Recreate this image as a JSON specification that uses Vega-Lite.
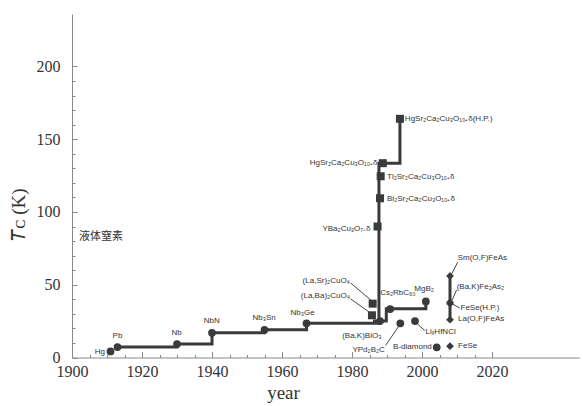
{
  "$schema": "https://vega.github.io/schema/vega-lite/v6.json",
  "width": 507.5,
  "height": 343.5,
  "autosize": {"type": "none"},
  "padding": {"left": 72, "top": 14, "right": 3.5, "bottom": 48.5},
  "background": "white",
  "config": {
    "view": {"stroke": null},
    "font": "Liberation Serif",
    "axis": {"labelFont": "Liberation Serif", "titleFont": "Liberation Serif"}
  },
  "datasets": {
    "steps": [
      {"series": "main", "year": 1913, "tc": 7.2},
      {"series": "main", "year": 1930, "tc": 9.2},
      {"series": "main", "year": 1940, "tc": 17},
      {"series": "main", "year": 1955, "tc": 19},
      {"series": "main", "year": 1967, "tc": 23.5},
      {"series": "main", "year": 1987.7, "tc": 133.5},
      {"series": "main", "year": 1993.7, "tc": 164},
      {"series": "branch", "year": 1986, "tc": 25},
      {"series": "branch", "year": 1989.8, "tc": 33.5},
      {"series": "branch", "year": 2001.1, "tc": 38.5},
      {"series": "iron", "year": 2008, "tc": 26},
      {"series": "iron", "year": 2008, "tc": 56}
    ],
    "circles": [
      {"name": "Hg", "year": 1911, "tc": 4.2},
      {"name": "Pb", "year": 1913, "tc": 7.2},
      {"name": "Nb", "year": 1930, "tc": 9.2},
      {"name": "NbN", "year": 1940, "tc": 17},
      {"name": "Nb3Sn", "year": 1955, "tc": 19},
      {"name": "Nb3Ge", "year": 1967, "tc": 23.5},
      {"name": "(Ba,K)BiO3", "year": 1988, "tc": 25},
      {"name": "Cs2RbC60", "year": 1990.9, "tc": 33.3},
      {"name": "MgB2", "year": 2001.1, "tc": 38.5},
      {"name": "YPd2B2C", "year": 1993.8, "tc": 23.5},
      {"name": "LixHfNCl", "year": 1998, "tc": 25},
      {"name": "B-diamond", "year": 2004.2, "tc": 7}
    ],
    "squares": [
      {"name": "(La,Ba)2CuO4", "year": 1985.7, "tc": 29},
      {"name": "(La,Sr)2CuO4", "year": 1985.9, "tc": 37},
      {"name": "YBa2Cu3O7", "year": 1987.3, "tc": 90},
      {"name": "Bi2223", "year": 1988, "tc": 109.4},
      {"name": "Tl2223", "year": 1988.2, "tc": 124.5},
      {"name": "Hg1223", "year": 1988.8, "tc": 133.5},
      {"name": "Hg1223 HP", "year": 1993.7, "tc": 164}
    ],
    "diamonds": [
      {"name": "La(O,F)FeAs", "year": 2008, "tc": 26},
      {"name": "FeSe(H.P.)", "year": 2008, "tc": 37},
      {"name": "(Ba,K)Fe2As2", "year": 2008, "tc": 38},
      {"name": "Sm(O,F)FeAs", "year": 2008, "tc": 56},
      {"name": "FeSe", "year": 2008, "tc": 7.8}
    ],
    "leaders": [
      {"year": 1979.6, "tc": 51.2, "year2": 1985.6, "tc2": 39},
      {"year": 1979.6, "tc": 40.3, "year2": 1985.6, "tc2": 30},
      {"year": 1989.6, "tc": 8.3, "year2": 1993.5, "tc2": 22},
      {"year": 1998.5, "tc": 23.5, "year2": 2000.8, "tc2": 18.5},
      {"year": 2008.5, "tc": 37, "year2": 2010.8, "tc2": 34},
      {"year": 2008.6, "tc": 39.5, "year2": 2009.9, "tc2": 46.5},
      {"year": 2008.5, "tc": 57.5, "year2": 2010.2, "tc2": 65.5}
    ],
    "labelsLeft": [
      {"label": "Tl₂Sr₂Ca₂Cu₃O₁₀₊δ", "year": 1990, "tc": 123.8},
      {"label": "Bi₂Sr₂Ca₂Cu₃O₁₀₊δ", "year": 1990, "tc": 108.7},
      {"label": "HgSr₂Ca₂Cu₃O₁₀₊δ(H.P.)", "year": 1995.1, "tc": 163.9},
      {"label": "LiₓHfNCl", "year": 2001, "tc": 17.3},
      {"label": "FeSe", "year": 2010.3, "tc": 7.6},
      {"label": "La(O,F)FeAs", "year": 2010.3, "tc": 26.3},
      {"label": "FeSe(H.P.)", "year": 2011, "tc": 33.8},
      {"label": "(Ba,K)Fe₂As₂", "year": 2009.9, "tc": 48.7},
      {"label": "Sm(O,F)FeAs", "year": 2010.2, "tc": 68.4}
    ],
    "labelsRight": [
      {"label": "Hg", "year": 1909.4, "tc": 4},
      {"label": "(La,Sr)₂CuO₄", "year": 1979.4, "tc": 52.6},
      {"label": "(La,Ba)₂CuO₄", "year": 1979.4, "tc": 42.3},
      {"label": "YPd₂B₂C", "year": 1989.4, "tc": 5.2},
      {"label": "B-diamond", "year": 2002.8, "tc": 7},
      {"label": "HgSr₂Ca₂Cu₃O₁₀₊δ", "year": 1987.3, "tc": 133.5},
      {"label": "YBa₂Cu₃O₇₋δ", "year": 1985.3, "tc": 88.1}
    ],
    "labelsCenter": [
      {"label": "Pb", "year": 1913, "tc": 14.8},
      {"label": "Nb", "year": 1929.9, "tc": 16.6},
      {"label": "NbN", "year": 1939.9, "tc": 25},
      {"label": "Nb₃Sn", "year": 1954.9, "tc": 27.4},
      {"label": "Nb₃Ge", "year": 1965.9, "tc": 30.8},
      {"label": "(Ba,K)BiO₃", "year": 1982.8, "tc": 14.8},
      {"label": "MgB₂", "year": 2000.6, "tc": 47},
      {"label": "Cs₂RbC₆₀", "year": 1993.1, "tc": 44.1}
    ],
    "note": [
      {"label": "液体窒素", "year": 1902, "tc": 83}
    ]
  },
  "encoding": {
    "x": {
      "field": "year", "type": "quantitative",
      "scale": {"domain": [1900, 2045], "nice": false, "zero": false},
      "axis": {
        "values": [1900,1905,1910,1915,1920,1925,1930,1935,1940,1945,1950,1955,1960,1965,1970,1975,1980,1985,1990,1995,2000,2005,2010,2015,2020],
        "format": "d",
        "labelOpacity": {"condition": {"test": "datum.value % 20 == 0", "value": 1}, "value": 0},
        "grid": false,
        "domainColor": "#888",
        "tickColor": "#888",
        "tickSize": {"condition": {"test": "datum.value % 20 == 0", "value": -6}, "value": -3},
        "labelPadding": 12,
        "labelFont": "Liberation Serif",
        "labelFontSize": 16,
        "labelColor": "#333",
        "labelFlush": false,
        "labelOverlap": false,
        "title": "year",
        "titleFont": "Liberation Serif",
        "titleFontSize": 19,
        "titleFontWeight": "normal",
        "titleColor": "#333",
        "titleX": 211,
        "titleY": 41,
        "titleAlign": "center",
        "titleBaseline": "alphabetic"
      }
    },
    "y": {
      "field": "tc", "type": "quantitative",
      "scale": {"domain": [0, 236], "nice": false, "zero": true},
      "axis": {
        "values": [0,10,20,30,40,50,60,70,80,90,100,110,120,130,140,150,160,170,180,190,200],
        "labelOpacity": {"condition": {"test": "datum.value % 50 == 0", "value": 1}, "value": 0},
        "grid": false,
        "domainColor": "#888",
        "tickColor": "#888",
        "tickSize": {"condition": {"test": "datum.value % 50 == 0", "value": -5}, "value": -3},
        "labelPadding": 17,
        "labelFont": "Liberation Serif",
        "labelFontSize": 16,
        "labelColor": "#333",
        "labelFlush": false,
        "labelOverlap": false,
        "title": "𝑇ᴄ (K)",
        "titleFont": "Liberation Serif",
        "titleFontSize": 19,
        "titleFontWeight": "normal",
        "titleColor": "#333",
        "titleAngle": 270,
        "titleX": -48,
        "titleY": 200,
        "titleAlign": "center",
        "titleBaseline": "alphabetic"
      }
    }
  },
  "layer": [
    {
      "data": {"name": "steps"},
      "mark": {"type": "line", "interpolate": "step-after", "color": "#3a3a3a", "strokeWidth": 3},
      "encoding": {"detail": {"field": "series"}}
    },
    {
      "data": {"name": "leaders"},
      "mark": {"type": "rule", "color": "#444", "strokeWidth": 1},
      "encoding": {"x2": {"field": "year2"}, "y2": {"field": "tc2"}}
    },
    {
      "data": {"name": "circles"},
      "mark": {"type": "point", "shape": "circle", "filled": true, "opacity": 1, "color": "#3a3a3a", "size": 60}
    },
    {
      "data": {"name": "squares"},
      "mark": {"type": "point", "shape": "square", "filled": true, "opacity": 1, "color": "#3a3a3a", "size": 64}
    },
    {
      "data": {"name": "diamonds"},
      "mark": {"type": "point", "shape": "diamond", "filled": true, "opacity": 1, "color": "#3a3a3a", "size": 60}
    },
    {
      "data": {"name": "labelsLeft"},
      "mark": {"type": "text", "align": "left", "baseline": "middle", "font": "Liberation Sans", "fontSize": 8, "color": "#333"},
      "encoding": {"text": {"field": "label"}}
    },
    {
      "data": {"name": "labelsRight"},
      "mark": {"type": "text", "align": "right", "baseline": "middle", "font": "Liberation Sans", "fontSize": 8, "color": "#333"},
      "encoding": {"text": {"field": "label"}}
    },
    {
      "data": {"name": "labelsCenter"},
      "mark": {"type": "text", "align": "center", "baseline": "middle", "font": "Liberation Sans", "fontSize": 8, "color": "#333"},
      "encoding": {"text": {"field": "label"}}
    },
    {
      "data": {"name": "note"},
      "mark": {"type": "text", "align": "left", "baseline": "middle", "font": "Noto Sans CJK JP", "fontSize": 11, "color": "#333"},
      "encoding": {"text": {"field": "label"}}
    }
  ]
}
